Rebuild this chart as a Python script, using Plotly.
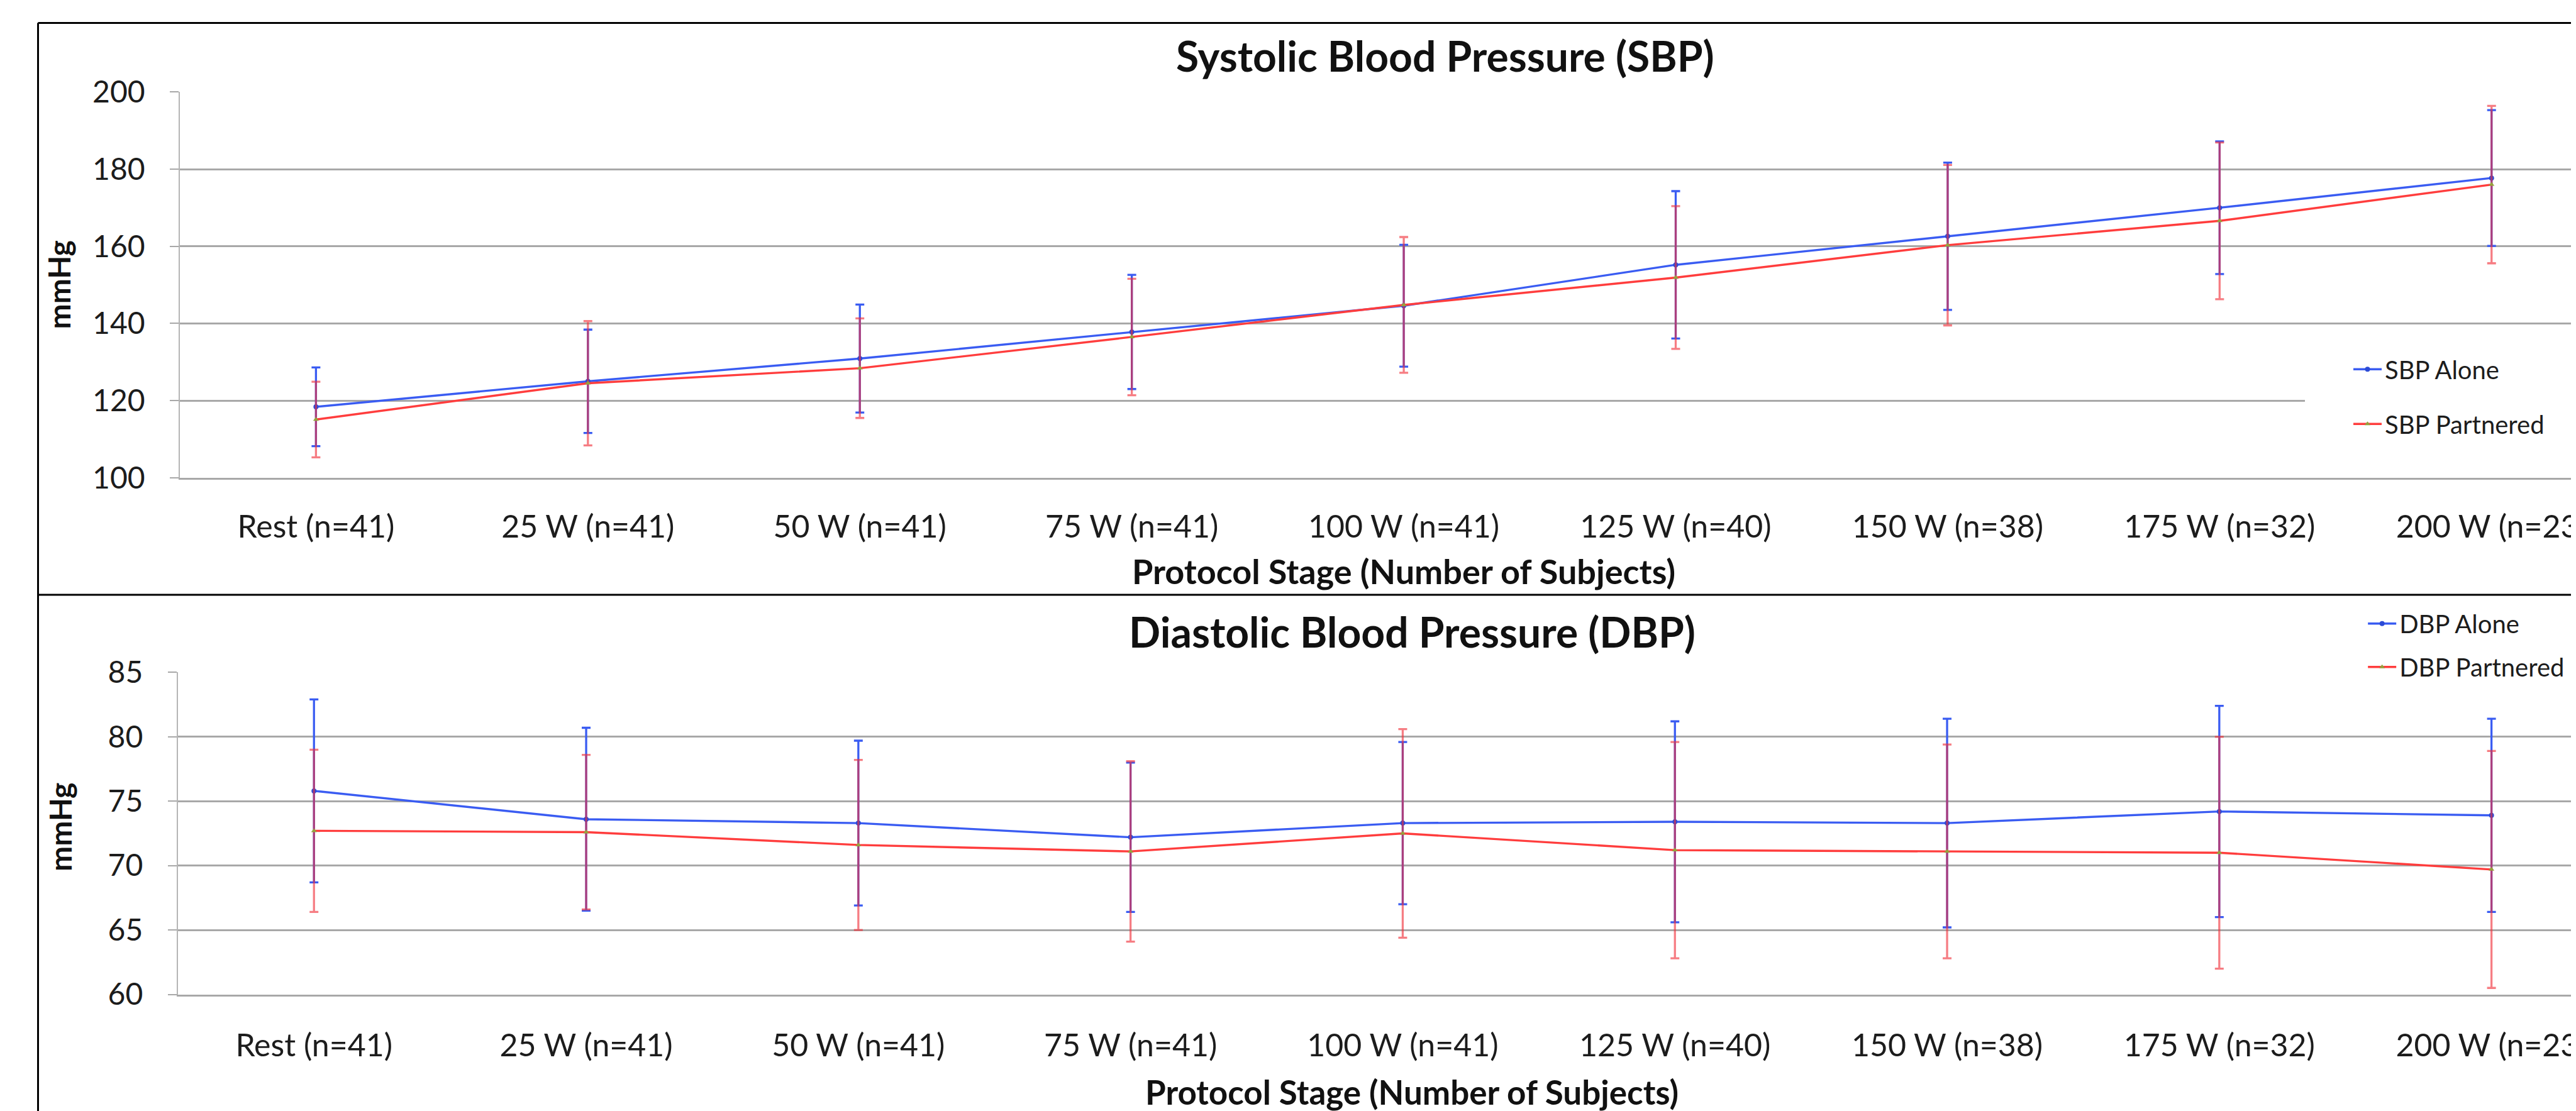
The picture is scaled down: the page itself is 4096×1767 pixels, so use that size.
import plotly.graph_objects as go

# ---------------- data ----------------
stages = ["Rest (n=41)", "25 W (n=41)", "50 W (n=41)", "75 W (n=41)", "100 W (n=41)",
          "125 W (n=40)", "150 W (n=38)", "175 W (n=32)", "200 W (n=23)"]

sbp_alone = [118.4, 125.0, 130.9, 137.8, 144.6, 155.2, 162.6, 170.0, 177.7]
sbp_alone_sd = [10.2, 13.4, 14.0, 14.8, 15.8, 19.1, 19.1, 17.2, 17.6]
sbp_partnered = [115.1, 124.5, 128.4, 136.5, 144.8, 151.9, 160.3, 166.6, 176.0]
sbp_partnered_sd = [9.8, 16.1, 12.9, 15.1, 17.6, 18.5, 20.8, 20.3, 20.4]

dbp_alone = [75.8, 73.6, 73.3, 72.2, 73.3, 73.4, 73.3, 74.2, 73.9]
dbp_alone_sd = [7.1, 7.1, 6.4, 5.8, 6.3, 7.8, 8.1, 8.2, 7.5]
dbp_partnered = [72.7, 72.6, 71.6, 71.1, 72.5, 71.2, 71.1, 71.0, 69.7]
dbp_partnered_sd = [6.3, 6.0, 6.6, 7.0, 8.1, 8.4, 8.3, 9.0, 9.2]

sbp_ticks = [100, 120, 140, 160, 180, 200]
dbp_ticks = [60, 65, 70, 75, 80, 85]

# ---------------- style ----------------
W, H = 4096, 1767
RW, RH = 4292, 1852          # reference size
FONT = "Lato"
BLUE = "#3a5cf2"
BLUE_MK = "#2c4bd6"
RED = "#ff3d3d"
RED_ERR = "rgba(240,45,55,0.62)"
OLIVE = "#95a23c"
GRID = "#a8a8a8"
TXT = "#1c1c1c"

def px(xr):  # reference x px -> paper
    return xr / RW

def py(yr):  # reference y px -> paper
    return 1 - yr / RH

fig = go.Figure()

def add(name, x, y, sd, color, err_color, mk_color, symbol, xa, ya, legend, group):
    fig.add_trace(go.Scatter(
        x=x, y=y, name=name, mode="lines+markers",
        line=dict(color=color, width=3.4),
        marker=dict(color=mk_color, size=8, symbol=symbol),
        error_y=dict(type="data", array=sd, visible=True, color=err_color,
                     thickness=3.3, width=7),
        xaxis=xa, yaxis=ya, legend=legend, legendgroup=group,
    ))

add("SBP Alone", stages, sbp_alone, sbp_alone_sd, BLUE, BLUE, BLUE_MK, "circle",
    "x", "y", "legend", "g1")
add("SBP Partnered", stages, sbp_partnered, sbp_partnered_sd, RED, RED_ERR, OLIVE,
    "triangle-up", "x", "y", "legend", "g2")
add("DBP Alone", stages, dbp_alone, dbp_alone_sd, BLUE, BLUE, BLUE_MK, "circle",
    "x2", "y2", "legend2", "g3")
add("DBP Partnered", stages, dbp_partnered, dbp_partnered_sd, RED, RED_ERR, OLIVE,
    "triangle-up", "x2", "y2", "legend2", "g4")

xcommon = dict(type="category", range=[-0.5, 8.329], showgrid=False, ticks="",
               tickfont=dict(family=FONT, size=50, color=TXT),
               showline=True, linecolor=GRID, linewidth=3, zeroline=False,
               fixedrange=True)
ycommon = dict(showgrid=True, gridcolor=GRID, gridwidth=3, ticks="outside", ticklen=14,
               tickcolor=GRID, tickwidth=2, showline=True, linecolor="#b5b5b5",
               linewidth=2, zeroline=False,
               tickfont=dict(family=FONT, size=48, color=TXT), ticklabelstandoff=30)

legcommon = dict(bgcolor="white", borderwidth=0, xanchor="left", yanchor="top",
                 font=dict(family=FONT, size=40, color=TXT), itemwidth=45,
                 traceorder="grouped")

fig.update_layout(
    width=W, height=H,
    margin=dict(l=0, r=0, t=0, b=0, autoexpand=False),
    paper_bgcolor="white", plot_bgcolor="white",
    showlegend=True,
    xaxis=dict(domain=[px(291.5), 1], anchor="y", ticklabelstandoff=32, **xcommon),
    yaxis=dict(domain=[py(788), py(145)], range=[100, 200], tickvals=sbp_ticks,
               anchor="x", **ycommon),
    xaxis2=dict(domain=[px(288), 1], anchor="y2", ticklabelstandoff=35, **xcommon),
    yaxis2=dict(domain=[py(1649.2), py(1112.5)], range=[60, 85], tickvals=dbp_ticks,
                anchor="x2", **ycommon),
    legend=dict(x=px(3832), y=py(573), tracegroupgap=32, indentation=72, **legcommon),
    legend2=dict(x=px(3894), y=py(997), tracegroupgap=14, indentation=36, **legcommon),
)

# white legend-area background continuation (the legend boxes run to the edge)
fig.add_shape(type="rect", xref="paper", yref="paper", layer="above",
              x0=px(3832), x1=1.01, y0=py(700), y1=py(600),
              fillcolor="white", line=dict(width=0))
fig.add_shape(type="rect", xref="paper", yref="paper", layer="above",
              x0=px(3894), x1=px(4283), y0=py(1135), y1=py(1095),
              fillcolor="white", line=dict(width=0))

def title(text, xr, yr, size, angle=0):
    fig.add_annotation(text=text, x=px(xr), y=py(yr), xref="paper", yref="paper",
                       xanchor="center", yanchor="middle", showarrow=False,
                       textangle=angle,
                       font=dict(family=FONT, size=size, color="#111111", weight="bold"))

title("Systolic Blood Pressure (SBP)", 2400, 84, 66)
title("Diastolic Blood Pressure (DBP)", 2345, 1044, 66)
title("Protocol Stage (Number of Subjects)", 2330, 944, 54)
title("Protocol Stage (Number of Subjects)", 2344, 1812, 53)
title("mmHg", 90, 466, 48, -90)
title("mmHg", 91, 1370, 48, -90)

# chart frame lines
frame = dict(type="line", xref="paper", yref="paper", line=dict(color="#000000", width=3))
fig.add_shape(x0=px(55), x1=1.02, y0=py(30), y1=py(30), **frame)
fig.add_shape(x0=px(55), x1=1.02, y0=py(983), y1=py(983), **frame)
fig.add_shape(x0=px(55), x1=px(55), y0=py(30), y1=-0.02, **frame)

fig.write_html("out.html")
